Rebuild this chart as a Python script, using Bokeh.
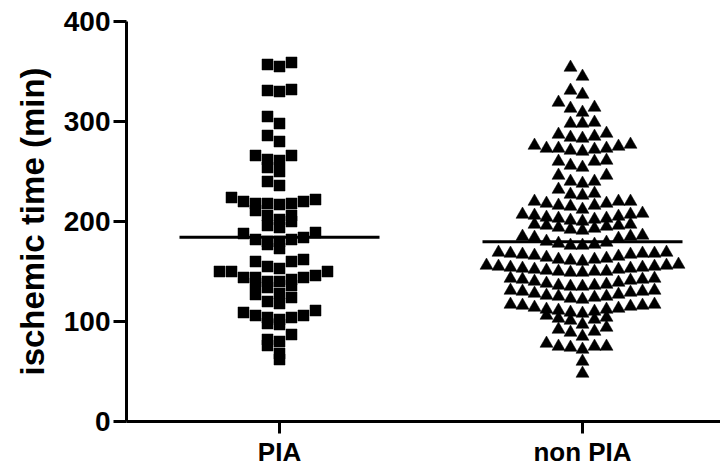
import numpy as np
from bokeh.plotting import figure
from bokeh.models import Range1d, FixedTicker, ColumnDataSource
from bokeh.embed import file_html
from bokeh.resources import INLINE

groups = ["PIA", "non PIA"]
y_ticks = [0, 100, 200, 300, 400]
y_label = "ischemic time (min)"

pia = [359, 357, 355, 332, 331, 330, 305, 298, 286, 280,
       266, 266, 262, 261, 254, 250, 240, 236,
       224, 222, 220, 220, 218, 218, 218, 217,
       211, 206, 206, 202, 200, 196, 194,
       189, 188, 184, 182, 182, 180, 180, 177, 173,
       162, 160, 160, 155, 153,
       150, 150, 150, 146, 144, 144, 144, 142, 140, 140, 138, 136, 134,
       128, 127, 124, 120, 118,
       111, 109, 106, 106, 104, 104, 102, 98, 97,
       87, 82, 80, 76, 68, 62]

non_pia = [354, 345, 331, 327, 319, 314, 313, 309, 299, 298, 298,
           288, 287, 285, 284, 283,
           277, 276, 275, 273, 273, 273, 272, 271, 270,
           261, 260, 260, 256, 254,
           246, 246, 240, 240, 238,
           232, 228, 227, 226,
           220, 220, 220, 218, 218, 216, 216, 215, 212,
           208, 207, 207, 206, 205, 204, 203, 203, 202, 201, 200,
           197, 197, 196, 196, 195, 194, 193, 192, 191,
           186, 185, 185, 184, 183, 180, 179, 178, 177, 176, 176,
           169, 169, 168, 168, 168, 167, 167, 166, 165, 164, 163, 162, 162, 161, 160,
           157, 156, 156, 155, 155, 154, 154, 153, 153, 152, 152, 151, 150, 150, 150, 149, 149,
           143, 143, 142, 142, 141, 140, 139, 138, 137, 136, 136, 135, 135,
           131, 131, 130, 130, 129, 128, 127, 126, 125, 125, 124, 123, 122,
           117, 117, 116, 116, 115, 114, 113, 112, 112, 111, 110, 109, 108,
           106, 104, 103, 102, 101, 97,
           94, 92, 90, 89, 85,
           78, 75, 75, 75, 74, 72,
           60, 48]

PX_PER_UNIT = 303.0
STEP = 12.0 / PX_PER_UNIT   # horizontal spacing of swarm columns (data units)
ROW_SPAN = 10.0             # values within this range of a row's top share a row


def swarm(values, center):
    """Prism-like scatter: group close values into rows, spread each row
    over columns from the centre outwards (lowest value in the middle)."""
    vals = np.asarray(values, dtype=float)
    order = list(np.argsort(-vals, kind="stable"))
    xs = np.zeros(len(vals))
    rows, cur = [], []
    for i in order:
        if cur and vals[cur[0]] - vals[i] > ROW_SPAN:
            rows.append(cur)
            cur = []
        cur.append(i)
    if cur:
        rows.append(cur)
    seq = [0]
    for k in range(1, 60):
        seq += [-k, k]
    for row in rows:
        row_sorted = sorted(row, key=lambda j: vals[j])
        for j, k in zip(row_sorted, seq):
            xs[j] = center + k * STEP
    return xs


p = figure(width=720, height=469,
           x_range=Range1d(1 - 153 / PX_PER_UNIT, 2 + 138 / PX_PER_UNIT),
           y_range=Range1d(0, 400),
           output_backend="svg", toolbar_location=None,
           min_border_left=126, min_border_right=0,
           min_border_top=21, min_border_bottom=45)
p.outline_line_color = None
p.grid.visible = False
p.background_fill_color = "white"

centers = [1, 2]
data_sets = [pia, non_pia]
markers = ["square", "triangle"]
sizes = [11, 13]
for c, vals, m, s in zip(centers, data_sets, markers, sizes):
    src = ColumnDataSource(dict(x=swarm(vals, c), y=vals))
    p.scatter("x", "y", source=src, marker=m, size=s,
              fill_color="black", line_color="black", line_width=0.5)
    mean = float(np.mean(vals))
    half = 100.0 / PX_PER_UNIT
    p.line([c - half, c + half], [mean, mean], line_color="black", line_width=3)

for ax in (p.xaxis[0], p.yaxis[0]):
    ax.axis_line_width = 3
    ax.axis_line_color = "black"
    ax.major_tick_line_width = 3
    ax.major_tick_line_color = "black"
    ax.major_tick_in = 0
    ax.minor_tick_in = 0
    ax.minor_tick_out = 0
    ax.major_label_text_font = "Liberation Sans"
    ax.major_label_text_font_style = "bold"
    ax.major_label_text_color = "black"

p.yaxis.major_label_text_font_size = "28px"
p.xaxis.major_label_text_font_size = "26px"

p.yaxis.ticker = FixedTicker(ticks=y_ticks)
p.yaxis.major_tick_out = 13
p.yaxis.major_label_standoff = 3
p.yaxis.axis_label = y_label
p.yaxis.axis_label_text_font = "Liberation Sans"
p.yaxis.axis_label_text_font_style = "bold"
p.yaxis.axis_label_text_font_size = "33px"
p.yaxis.axis_label_text_color = "black"
p.yaxis.axis_label_standoff = 10

p.xaxis.ticker = FixedTicker(ticks=centers)
p.xaxis.major_label_overrides = {c: g for c, g in zip(centers, groups)}
p.xaxis.major_tick_out = 12
p.xaxis.major_label_standoff = 3

open("out.html", "w").write(file_html(p, INLINE))
